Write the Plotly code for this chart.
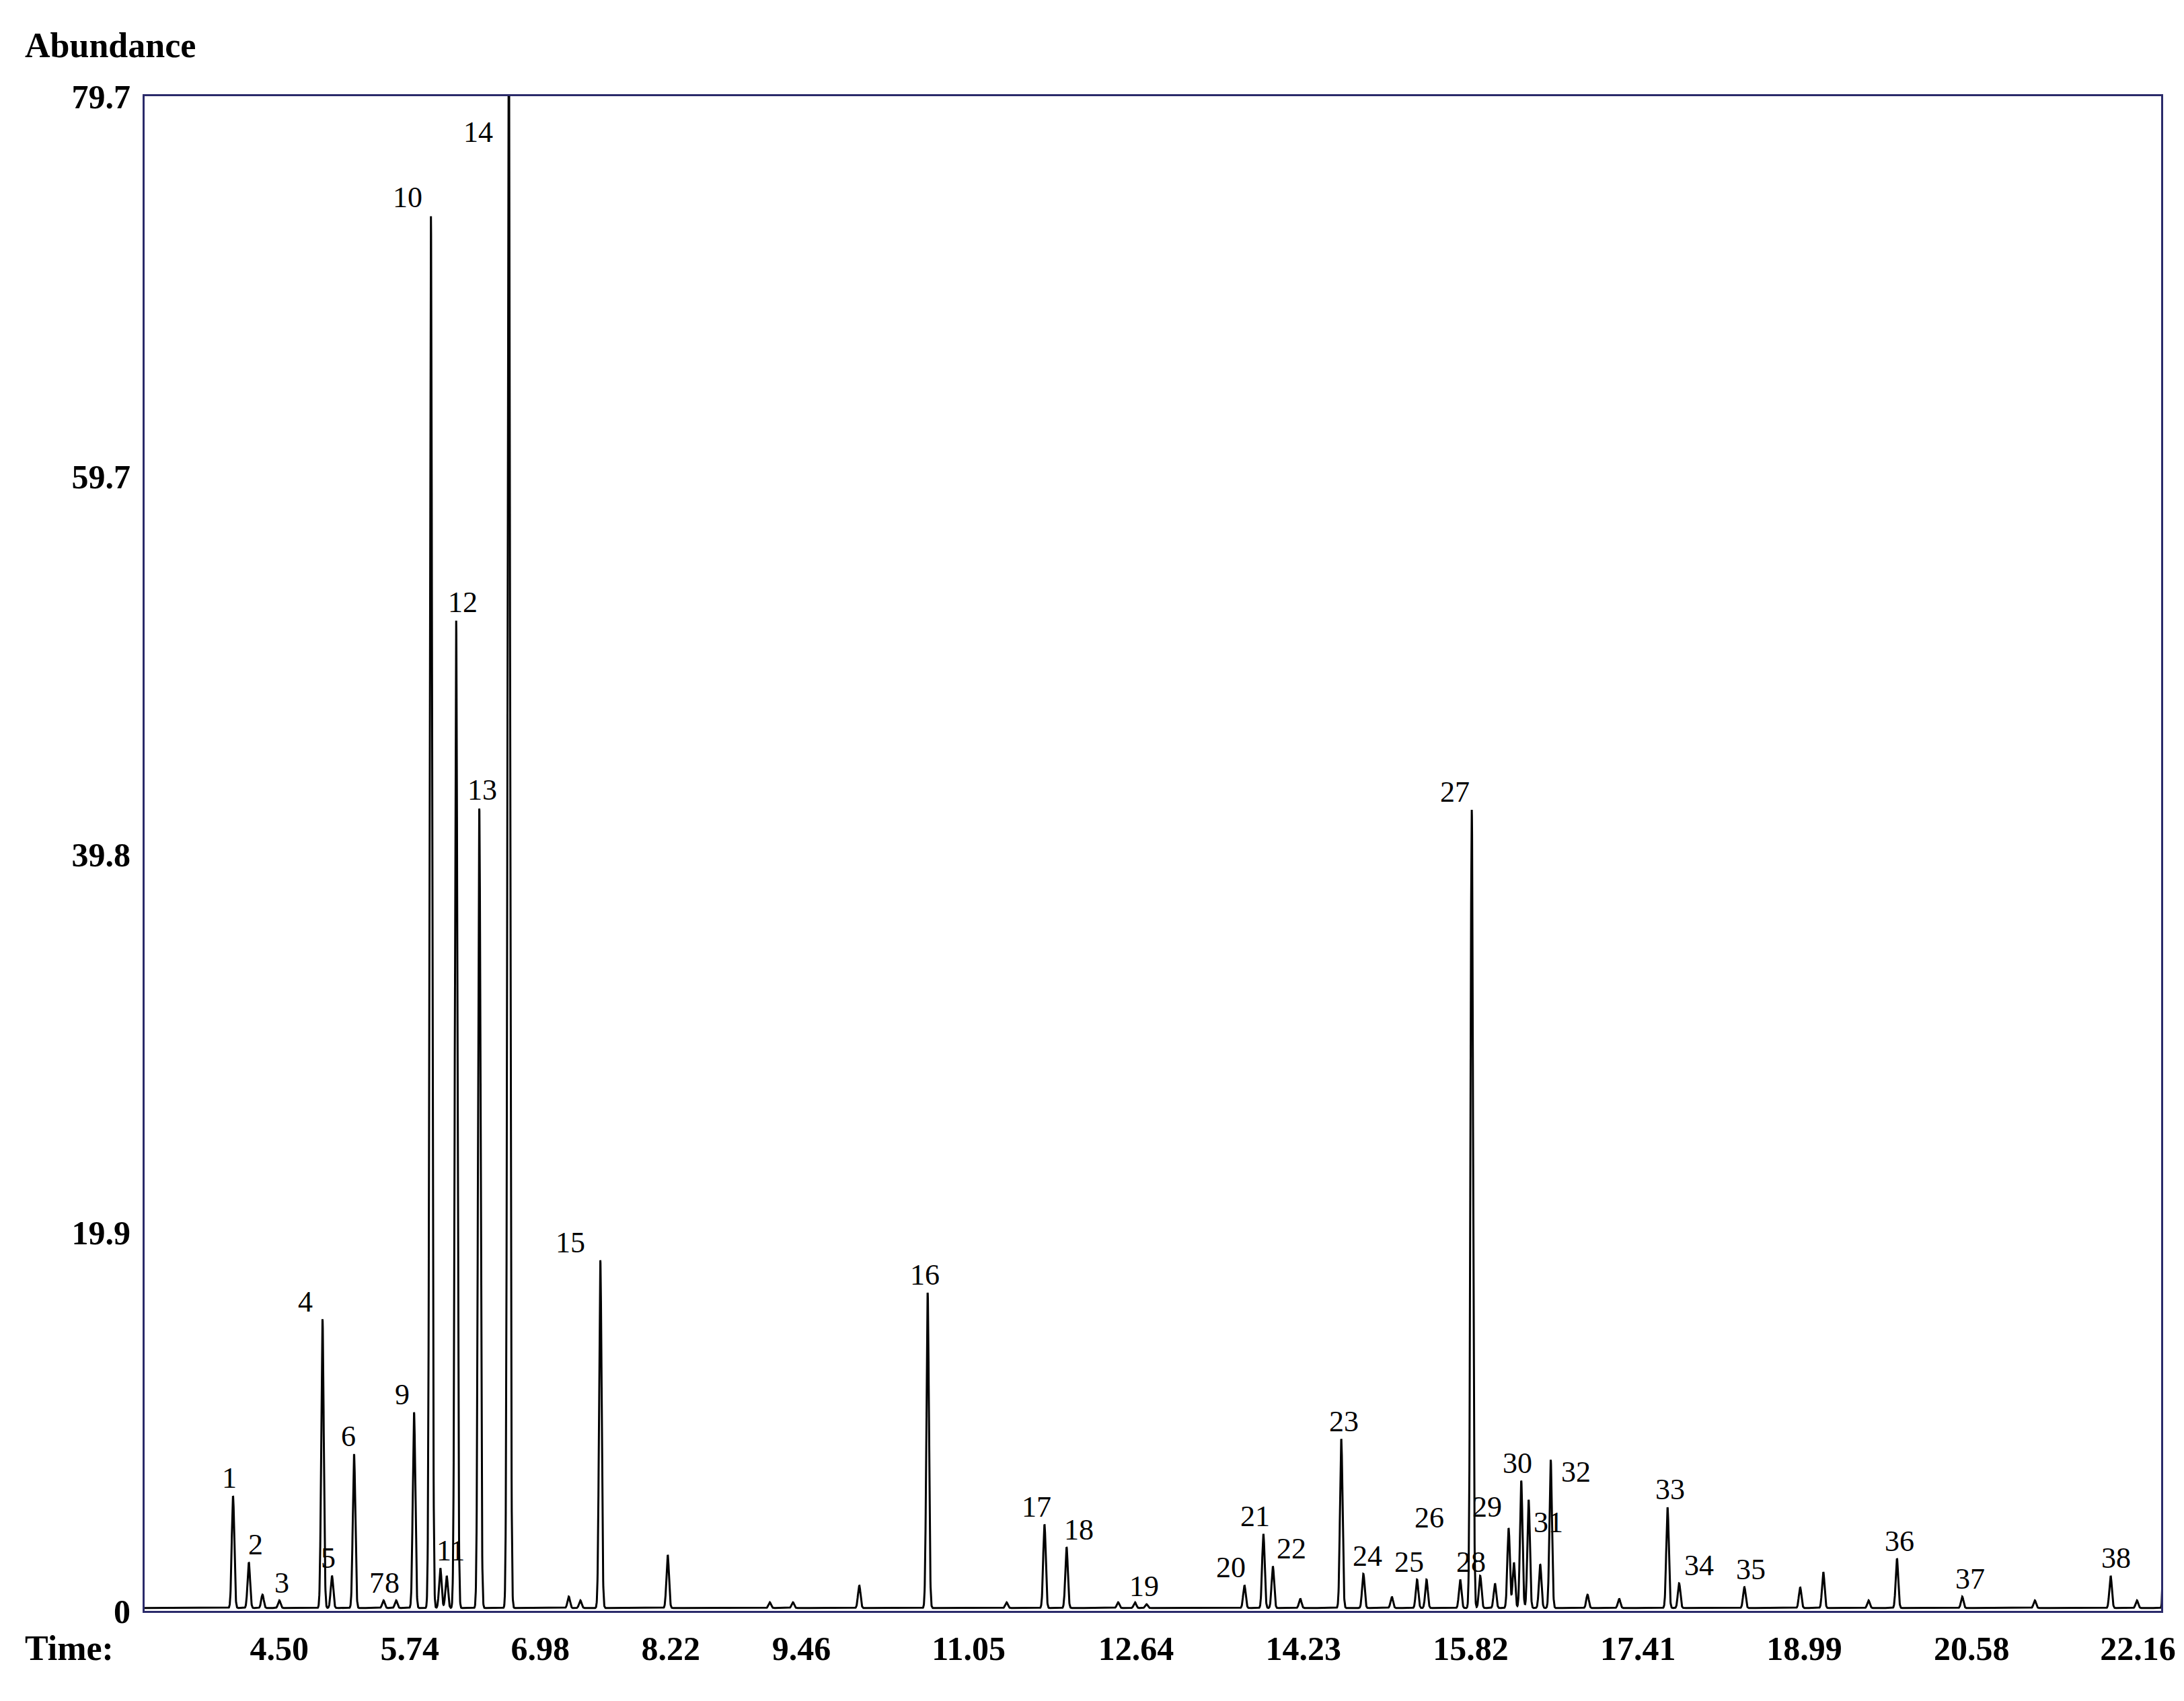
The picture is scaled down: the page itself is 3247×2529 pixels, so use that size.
import numpy as np
import plotly.graph_objects as go

# Peak list: retention time (min), height (abundance), label
peak_times = [4.06, 4.21, 4.34, 4.50, 4.91, 5.00, 5.21, 5.49, 5.61, 5.78, 5.94, 6.03, 6.09, 6.18, 6.40, 6.68,
              7.25, 7.36, 7.55, 8.19, 9.16, 9.38, 10.01, 10.66, 11.41, 11.77, 11.98, 12.47, 12.63, 12.74,
              13.67, 13.85, 13.94, 14.20, 14.59, 14.80, 15.07, 15.31, 15.40, 15.72, 15.83, 15.91, 16.05,
              16.18, 16.23, 16.30, 16.37, 16.48, 16.58, 16.93, 17.23, 17.69, 17.80, 18.42, 18.95, 19.17,
              19.60, 19.87, 20.49, 21.18, 21.90, 22.15, 22.43]
peak_heights = [5.9, 2.4, 0.7, 0.4, 15.2, 1.7, 8.1, 0.4, 0.4, 10.3, 73.3, 2.1, 1.7, 52.0, 42.1, 85.0,
                0.6, 0.4, 18.3, 2.8, 0.3, 0.3, 1.2, 16.6, 0.3, 4.4, 3.2, 0.3, 0.3, 0.2,
                1.2, 3.9, 2.2, 0.5, 8.9, 1.8, 0.6, 1.5, 1.5, 1.5, 42.0, 1.7, 1.3,
                4.2, 2.4, 6.7, 5.7, 2.3, 7.8, 0.7, 0.5, 5.3, 1.3, 1.1, 1.1, 1.9,
                0.4, 2.6, 0.6, 0.4, 1.7, 0.4, 300.0]
peak_labels = ["1", "2", "", "3", "4", "5", "6", "7", "8", "9", "10", "11", "", "12", "13", "14",
               "", "", "15", "", "", "", "", "16", "", "17", "18", "", "", "19",
               "20", "21", "22", "", "23", "24", "", "25", "26", "28", "27", "29", "",
               "", "", "30", "", "31", "32", "", "", "33", "34", "35", "", "",
               "", "36", "37", "", "38", "", ""]
label_shift = {"1": -5, "2": 10, "3": 4, "4": -25, "5": -6, "6": -8, "7": -10, "8": -6, "9": -18,
               "10": -35, "11": 15, "12": 10, "13": 4, "14": -45, "15": -45, "16": -4, "17": -12,
               "18": 18, "19": -4, "20": -20, "21": -12, "22": 28, "23": 4, "24": 6, "25": -12,
               "26": 4, "27": -25, "28": 16, "29": 10, "30": -6, "31": 12, "32": 38, "33": 4, "34": 30,
               "35": 10, "36": 4, "37": 12, "38": 8}
label_yshift = {"14": -80, "26": 70, "29": 80, "31": 40, "32": -40}

x_ticks = [4.50, 5.74, 6.98, 8.22, 9.46, 11.05, 12.64, 14.23, 15.82, 17.41, 18.99, 20.58, 22.16]
y_ticks = [0, 19.9, 39.8, 59.7, 79.7]

t = np.arange(3.2, 22.5, 0.0015)
sig = 0.012
y = np.full_like(t, 0.15)
for pt, ph in zip(peak_times, peak_heights):
    y += ph * np.exp(-0.5 * ((t - pt) / sig) ** 2)

fig = go.Figure(go.Scatter(x=t, y=y, mode="lines", line=dict(color="black", width=3),
                           hoverinfo="skip", showlegend=False))

ann = []
for pt, ph, lb in zip(peak_times, peak_heights, peak_labels):
    if not lb:
        continue
    yy = min(ph, 79.7)
    ann.append(dict(x=pt, y=yy, text=lb, showarrow=False, xanchor="center", yanchor="bottom",
                    xshift=label_shift.get(lb, 0), yshift=label_yshift.get(lb, 4),
                    font=dict(family="Liberation Serif", size=44, color="black")))
ann.append(dict(x=0.0, y=1.0, xref="paper", yref="paper", text="<b>Abundance</b>", showarrow=False,
                xanchor="left", yanchor="bottom", xshift=-180, yshift=45,
                font=dict(family="Liberation Serif", size=52, color="black")))
ann.append(dict(x=0.0, y=0.0, xref="paper", yref="paper", text="<b>Time:</b>", showarrow=False,
                xanchor="left", yanchor="top", xshift=-180, yshift=-25,
                font=dict(family="Liberation Serif", size=52, color="black")))

axis_col = "#2a2a6a"
tf = dict(family="Liberation Serif", size=50, color="black", weight="bold")
fig.update_layout(
    width=3247, height=2529, plot_bgcolor="white", paper_bgcolor="white",
    margin=dict(l=207, r=42, t=135, b=142),
    annotations=ann,
    xaxis=dict(range=[3.22, 22.38], tickvals=x_ticks, ticktext=[f"{v:.2f}" for v in x_ticks],
               showgrid=False, zeroline=False, showline=True, mirror=True, linecolor=axis_col,
               linewidth=3, ticks="", tickfont=tf, ticklabelstandoff=10),
    yaxis=dict(range=[0, 79.7], tickvals=y_ticks, ticktext=[str(v) if v else "0" for v in y_ticks],
               showgrid=False, zeroline=False, showline=True, mirror=True, linecolor=axis_col,
               linewidth=3, ticks="", tickfont=tf, ticklabelstandoff=8),
)
fig.write_html("out.html")
